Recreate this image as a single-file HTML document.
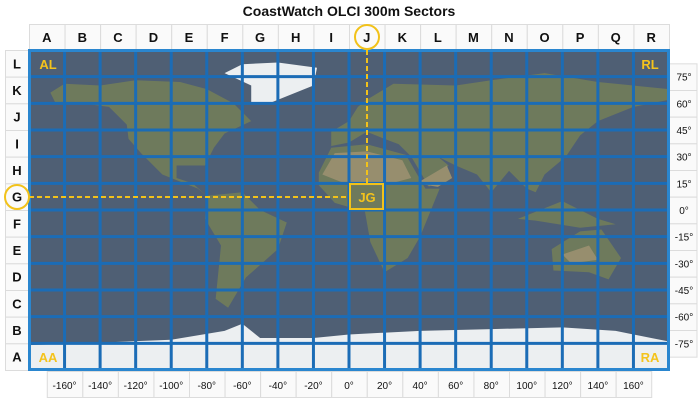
<!DOCTYPE html>
<html><head><meta charset="utf-8"><style>
html,body{margin:0;padding:0;background:#fff;}
body{width:698px;height:403px;overflow:hidden;position:relative;font-family:"Liberation Sans",Arial,sans-serif;}
</style></head><body>
<svg width="698" height="403" viewBox="0 0 698 403" xmlns="http://www.w3.org/2000/svg" style="position:absolute;left:0;top:0">
<text x="349" y="16" text-anchor="middle" font-size="14" font-weight="bold" fill="#111" font-family="Liberation Sans, sans-serif">CoastWatch OLCI 300m Sectors</text>
<g id="hdr" font-family="Liberation Sans, sans-serif" font-size="13" font-weight="bold" fill="#111" text-anchor="middle"></g>
<svg x="29" y="50" width="640" height="320" viewBox="-180 -90 360 180" preserveAspectRatio="none">
<rect x="-180" y="-90" width="360" height="180" fill="#4f5f74"/>
<g fill="#6e7a5c">
<polygon points="-168,-66 -160,-71 -140,-70 -120,-73 -95,-72 -80,-68 -65,-60 -55,-50 -70,-43 -76,-35 -81,-25 -97,-25 -97,-18 -88,-15 -80,-8 -85,-12 -105,-20 -117,-32 -124,-40 -125,-48 -135,-58 -150,-60 -165,-60"/>
<polygon points="-80,-8 -60,-10 -50,0 -35,7 -40,22 -58,38 -68,55 -75,50 -72,20 -81,5"/>
<polygon points="-10,-36 -10,-44 0,-50 5,-58 10,-62 25,-71 60,-70 80,-73 110,-77 140,-72 180,-68 180,-62 160,-58 140,-50 130,-42 122,-30 110,-20 105,-10 100,-12 90,-22 80,-10 72,-20 60,-25 50,-30 56,-25 45,-13 35,-30 28,-37 20,-40 10,-44 0,-38"/>
<polygon points="-17,-21 -10,-35 10,-37 32,-31 43,-12 51,-12 40,15 33,27 20,35 12,18 9,1 -8,-4 -17,-14"/>
<polygon points="114,22 130,12 142,11 153,27 146,39 135,35 115,34"/>
<polygon points="95,5 120,-5 140,5 150,8 130,10 105,6"/>
</g>
<g fill="#978e6e">
<polygon points="-15,-20 -8,-32 10,-33 30,-28 35,-18 20,-14 0,-14"/>
<polygon points="38,-15 55,-25 58,-18 50,-13"/>
<polygon points="120,25 135,20 140,28 125,30"/>
</g>
<g fill="#eceff1">
<polygon points="-55,-60 -45,-60 -20,-70 -18,-80 -40,-83 -60,-82 -70,-77 -55,-70"/>
<polygon points="-180,76 -150,75 -100,73 -70,68 -60,64 -50,72 -20,72 0,70 40,68 80,67 120,66 150,68 170,72 180,74 180,90 -180,90"/>
</g>
</svg>
<g id="grid" fill="none" stroke="#1b6cb6" stroke-width="3"></g>
<rect x="29.5" y="50.5" width="639" height="319" fill="none" stroke="#2a86cf" stroke-width="3"/>
<g fill="none" stroke="#f2c21a" stroke-width="2">
<circle cx="367" cy="37" r="12"/>
<circle cx="17" cy="197" r="12"/>
<line x1="367" y1="50" x2="367" y2="183" stroke-dasharray="5,3"/>
<line x1="29" y1="197" x2="349" y2="197" stroke-dasharray="5,3"/>
<rect x="350" y="184" width="33" height="25"/>
</g>
<g font-family="Liberation Sans, sans-serif" font-size="13" font-weight="bold" fill="#f4c31c" text-anchor="middle">
<text x="48" y="69">AL</text><text x="650" y="69">RL</text>
<text x="48" y="362">AA</text><text x="650" y="362">RA</text>
<text x="367" y="202">JG</text>
</g>
</svg>
<script>
var ns="http://www.w3.org/2000/svg",h=document.getElementById('hdr'),g=document.getElementById('grid');
function el(t,a,p,txt){var e=document.createElementNS(ns,t);for(var k in a)e.setAttribute(k,a[k]);if(txt)e.textContent=txt;p.appendChild(e);return e;}
var cw=640/18,rh=320/12,L="ABCDEFGHIJKLMNOPQR",R="LKJIHGFEDCBA";
for(var i=0;i<18;i++){var x=29+i*cw;el('rect',{x:x+0.5,y:24.5,width:cw,height:25.5,fill:'#fafafa',stroke:'#dcdcdc','stroke-width':1},h);el('text',{x:x+cw/2,y:42},h,L[i]);}
for(var j=0;j<12;j++){var y=50+j*rh;el('rect',{x:5.5,y:y+0.5,width:23.5,height:rh,fill:'#fafafa',stroke:'#dcdcdc','stroke-width':1},h);el('text',{x:17,y:y+rh/2+5},h,R[j]);}
var lats=[75,60,45,30,15,0,-15,-30,-45,-60,-75];
for(var j=0;j<11;j++){var y=50+(j+1)*rh;el('rect',{x:669.5,y:y-rh/2+0.5,width:27.5,height:rh,fill:'#fafafa',stroke:'#dcdcdc','stroke-width':1},h);el('text',{x:684,y:y+4,'font-size':10,'font-weight':'normal'},h,lats[j]+'°');}
for(var i=1;i<18;i++){var x=29+i*cw,lon=-180+i*20;el('rect',{x:x-cw/2+0.5,y:371.5,width:cw,height:26,fill:'#fafafa',stroke:'#dcdcdc','stroke-width':1},h);el('text',{x:x,y:389,'font-size':10,'font-weight':'normal'},h,lon+'°');}
for(var i=1;i<18;i++){var x=29+i*cw;el('line',{x1:x,y1:50,x2:x,y2:370},g);}
for(var j=1;j<12;j++){var y=50+j*rh;el('line',{x1:29,y1:y,x2:669,y2:y},g);}
</script>
</body></html>
